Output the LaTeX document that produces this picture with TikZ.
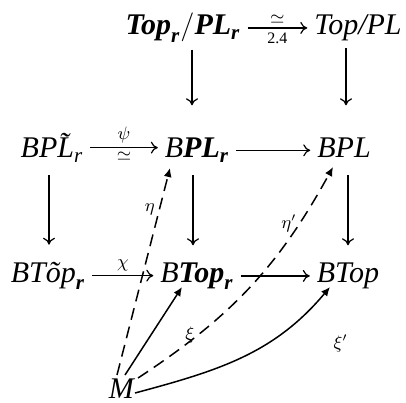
\documentclass[tikz,border=0pt]{standalone}
\usepackage{amsmath, amssymb}
\usepackage{fontspec}
\setmainfont{Liberation Serif}
\usetikzlibrary{arrows.meta}

\newcommand{\itx}[1]{\textit{#1}}
\newcommand{\bitx}[1]{\textbf{\textit{#1}}}

\begin{document}
\begin{tikzpicture}[
  x=0.5pt, y=0.5pt,
  font=\fontsize{15}{18}\selectfont,
  obj/.style={anchor=base},
  map/.style={-{To[length=3.5pt, width=6pt]}, line width=0.6pt},
  lift/.style={-{Latex[length=4.5pt, width=4pt]}, line width=0.75pt},
  dashedlift/.style={lift, dash pattern=on 6pt off 3.5pt},
  lbl/.style={font=\small, inner sep=2pt}
]
\useasboundingbox (0,0) rectangle (406,402);

\node[obj] (toppl) at (183,367) {$\bitx{Top}_{\bitx{r}}/\bitx{PL}_{\bitx{r}}$};
\node[obj] (top) at (358,367) {\itx{Top/PL}};
\node[obj] (bpt) at (52,244) {$\itx{BP\~L}_{\itx{r}}$};
\node[obj] (bplr) at (197,244) {$\itx{B}\bitx{PL}_{\bitx{r}}$};
\node[obj] (bpl) at (344,244) {\itx{BPL}};
\node[obj] (btt) at (48,120) {$\itx{BT\~op}_{\bitx{r}}$};
\node[obj] (btopr) at (197,120) {$\itx{B}\bitx{Top}_{\bitx{r}}$};
\node[obj] (btop) at (348,120) {\itx{BTop}};
\node[obj, inner sep=1pt] (m) at (122,4) {\itx{M}};

% horizontal maps
\draw[map] (toppl.east) -- node[lbl, above] {$\simeq$} node[lbl, below, font=\footnotesize] {2.4} (toppl.east -| top.west);
\draw[map] (bpt.east) -- node[lbl, above] {$\psi$} node[lbl, below] {$\simeq$} (bpt.east -| bplr.west);
\draw[map] (bplr.east) -- (bplr.east -| bpl.west);
\draw[map] (btt.east) -- node[lbl, above] {$\chi$} (btt.east -| btopr.west);
\draw[map] (btopr.east) -- (btopr.east -| btop.west);

% vertical maps
\draw[map, shorten >=13pt] ([shift={(9,0)}]toppl.south) -- ([shift={(-5,0)}]bplr.north);
\draw[map, shorten >=13pt] ([shift={(-12,0)}]top.south) -- ([shift={(2,0)}]bpl.north);
\draw[map, shorten <=3pt, shorten >=5pt] ([shift={(-3,0)}]bpt.south) -- ([shift={(1,0)}]btt.north);
\draw[map, shorten <=3pt, shorten >=5pt] ([shift={(-4,0)}]bplr.south) -- ([shift={(-4,0)}]btopr.north);
\draw[map, shorten <=5pt, shorten >=5pt] ([shift={(4,0)}]bpl.south) -- (btop.north);

% lifts and bundles over M
\draw[dashedlift] ([shift={(-5,23)}]m.base) -- node[lbl, pos=0.8, left] {$\eta$} ([shift={(-27,-10)}]bplr.base);
\draw[dashedlift] ([shift={(16,20)}]m.base) to[bend right=14] node[lbl, pos=0.79, left=-1pt] {$\eta'$} ([shift={(-11,-9)}]bpl.base);
\draw[lift] ([shift={(3,23)}]m.base) -- node[lbl, pos=0.45, right=15pt] {$\xi$} ([shift={(-15,-5)}]btopr.base);
\draw[lift] ([shift={(13,5)}]m.base) to[out=15, in=230] node[lbl, pos=0.85, below right=8pt, xshift=4pt] {$\xi'$} ([shift={(-18,-5)}]btop.base);
\end{tikzpicture}
\end{document}
